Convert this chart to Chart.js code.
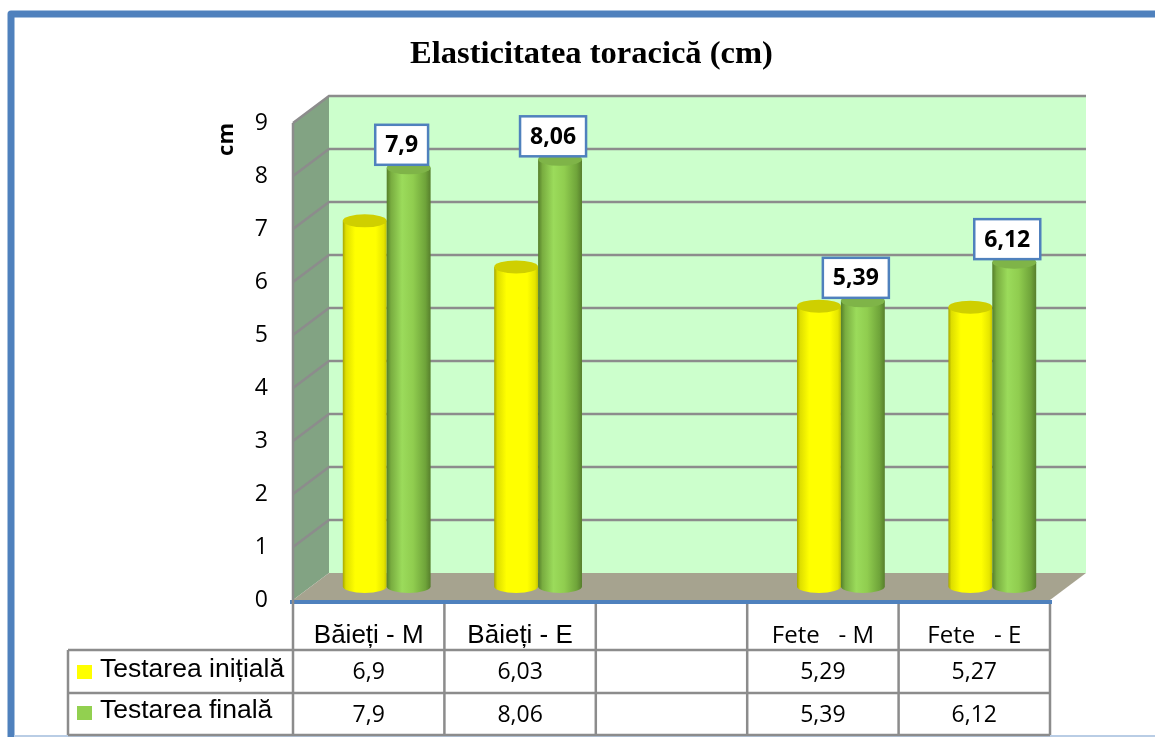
<!DOCTYPE html>
<html lang="ro">
<head>
  <meta charset="UTF-8">
  <title>Elasticitatea toracică (cm)</title>
  <script src="https://cdn.jsdelivr.net/npm/chart.js"></script>
  <style>
    html, body { margin: 0; padding: 0; background: #fff; overflow: hidden; }
    canvas { display: block; }
  </style>
</head>
<body>
  <canvas id="chart" width="1155" height="737"></canvas>

  <script>
    // data
    const categories = ['Băieți - M', 'Băieți - E', '', 'Fete   - M', 'Fete   - E'];
    const initiala   = [6.9, 6.03, null, 5.29, 5.27];
    const finala     = [7.9, 8.06, null, 5.39, 6.12];
    const seriesNames = ['Testarea inițială', 'Testarea finală'];
    const yMin = 0, yMax = 9, yStep = 1;

    // look
    const YELLOW = '#ffff00', GREEN = '#92d050', FRAME = '#4f81bd', GRID = '#8c8c8c';
    const DX = 36, DY = -27;            // depth of the box (back wall offset)
    const MX = DX / 2, MY = DY / 2;     // bars stand in the middle of the floor
    const catFonts = ['26px "Liberation Sans"', '26px "Liberation Sans"', '24px "Open Sans"',
                      '24px "Open Sans"', '24px "Open Sans"'];
    const shades = [
      { body: [[0, '#a6a600'], [0.07, '#dede00'], [0.28, '#ffff00'], [0.75, '#ffff00'], [0.93, '#e6e600'], [1, '#c4c400']],
        top: '#cfcf00' },
      { body: [[0, '#557f2a'], [0.1, '#79ad40'], [0.35, '#9bdb5b'], [0.6, '#90cd4f'], [0.88, '#6fa43a'], [1, '#577f2c']],
        top: '#7fb448' }
    ];

    const fmt = v => String(v).replace('.', ',');

    function poly(ctx, pts) {
      ctx.beginPath();
      pts.forEach(([x, y], i) => i ? ctx.lineTo(x, y) : ctx.moveTo(x, y));
      ctx.closePath();
      ctx.fill();
    }

    function drawCylinder(ctx, cx, yTop, yBase, w, shade) {
      const rx = w / 2, ry = 6.5, l = cx - rx, r = cx + rx;
      const g = ctx.createLinearGradient(l, 0, r, 0);
      shade.body.forEach(([s, c]) => g.addColorStop(s, c));
      ctx.beginPath();
      ctx.moveTo(l, yTop);
      ctx.lineTo(l, yBase);
      ctx.ellipse(cx, yBase, rx, ry, 0, Math.PI, 0, true);
      ctx.lineTo(r, yTop);
      ctx.closePath();
      ctx.fillStyle = g;
      ctx.fill();
      ctx.beginPath();
      ctx.ellipse(cx, yTop, rx, ry, 0, 0, Math.PI * 2);
      ctx.fillStyle = shade.top;
      ctx.fill();
    }

    const scene3d = {
      id: 'scene3d',
      beforeDraw(chart) {
        const { ctx, width, height } = chart;
        ctx.save();
        ctx.fillStyle = '#fff';
        ctx.fillRect(0, 0, width, height);
        // outer frame (runs off the right edge)
        ctx.strokeStyle = FRAME;
        ctx.lineWidth = 7;
        ctx.lineJoin = 'round';
        ctx.beginPath();
        ctx.moveTo(11, height + 10);
        ctx.lineTo(11, 14);
        ctx.lineTo(width + 10, 14);
        ctx.stroke();
        ctx.strokeStyle = '#b9cde5';
        ctx.lineWidth = 2;
        ctx.beginPath();
        ctx.moveTo(14, height - 1);
        ctx.lineTo(width, height - 1);
        ctx.stroke();
        ctx.restore();
      },
      beforeDatasetsDraw(chart) {
        const { ctx, chartArea: { left, right, top, bottom } } = chart;
        const y = chart.scales.y;
        ctx.save();
        // side wall, back wall, floor
        ctx.fillStyle = '#82a383';
        poly(ctx, [[left, bottom], [left, top], [left + DX, top + DY], [left + DX, bottom + DY]]);
        ctx.fillStyle = '#ccffcc';
        ctx.fillRect(left + DX, top + DY, right - left, bottom - top);
        ctx.fillStyle = '#a6a38f';
        poly(ctx, [[left, bottom], [right, bottom], [right + DX, bottom + DY], [left + DX, bottom + DY]]);

        // grid lines wrap around side and back wall
        ctx.strokeStyle = GRID;
        ctx.lineWidth = 2.5;
        y.ticks.forEach(t => {
          if (t.value === yMin) return;
          const py = y.getPixelForValue(t.value);
          ctx.beginPath();
          ctx.moveTo(left, py);
          ctx.lineTo(left + DX, py + DY);
          ctx.lineTo(right + DX, py + DY);
          ctx.stroke();
        });

        // cylinders
        chart.data.datasets.forEach((ds, di) => {
          chart.getDatasetMeta(di).data.forEach((bar, i) => {
            if (ds.data[i] == null) return;
            const p = bar.getProps(['x', 'y', 'base', 'width'], true);
            drawCylinder(ctx, p.x + MX, p.y + MY, p.base + MY, p.width, shades[di]);
          });
        });

        // value axis line along the front of the floor
        ctx.strokeStyle = FRAME;
        ctx.lineWidth = 4;
        ctx.beginPath();
        ctx.moveTo(left - 3, bottom + 2);
        ctx.lineTo(right + 2, bottom + 2);
        ctx.stroke();
        ctx.restore();
      },
      beforeDatasetDraw() {
        return false;   // bars are painted as cylinders above
      },
      afterDatasetsDraw(chart) {
        const { ctx } = chart;
        ctx.save();
        ctx.font = 'bold 23px "Open Sans"';
        ctx.textAlign = 'center';
        ctx.textBaseline = 'middle';
        chart.getDatasetMeta(1).data.forEach((bar, i) => {
          const v = finala[i];
          if (v == null) return;
          const text = fmt(v);
          const cx = bar.x + MX - 7;
          const bw = ctx.measureText(text).width + 20, bh = 40;
          const bx = cx - bw / 2, by = bar.y + MY - 3 - bh;
          ctx.fillStyle = '#fff';
          ctx.fillRect(bx, by, bw, bh);
          ctx.strokeStyle = FRAME;
          ctx.lineWidth = 2.5;
          ctx.strokeRect(bx, by, bw, bh);
          ctx.fillStyle = '#000';
          ctx.fillText(text, cx, by + bh / 2 + 1);
        });
        ctx.restore();
      },
      afterDraw(chart) {
        // data table under the plot
        const { ctx, chartArea: { left, right, top, bottom } } = chart;
        const x = chart.scales.x;
        const catW = (right - left) / categories.length;
        const hdr = bottom + 50, row1 = bottom + 93, row2 = bottom + 135, legL = 68;
        const rows = [initiala, finala];
        const colors = [YELLOW, GREEN];

        ctx.save();
        ctx.strokeStyle = GRID;
        ctx.lineWidth = 2.5;
        ctx.beginPath();
        ctx.moveTo(left, top);
        ctx.lineTo(left, row2);
        for (let k = 1; k <= categories.length; k++) {
          ctx.moveTo(left + k * catW, bottom + 4);
          ctx.lineTo(left + k * catW, row2);
        }
        ctx.moveTo(legL, hdr);
        ctx.lineTo(legL, row2);
        [hdr, row1, row2].forEach(yy => { ctx.moveTo(legL, yy); ctx.lineTo(right, yy); });
        ctx.stroke();

        ctx.fillStyle = '#000';
        ctx.textAlign = 'center';
        ctx.textBaseline = 'alphabetic';
        categories.forEach((c, i) => {
          const cx = x.getPixelForValue(i);
          ctx.font = catFonts[i];
          ctx.fillText(c, cx, bottom + 43);
          ctx.font = '23px "Open Sans"';
          rows.forEach((r, ri) => {
            if (r[i] != null) ctx.fillText(fmt(r[i]), cx, bottom + (ri ? 122 : 79));
          });
        });

        ctx.textAlign = 'left';
        ctx.font = '26.5px "Liberation Sans"';
        seriesNames.forEach((s, ri) => {
          const base = ri ? bottom + 118 : bottom + 77;
          ctx.fillStyle = colors[ri];
          ctx.fillRect(77, base - 12, 15, 14);
          ctx.fillStyle = '#000';
          ctx.fillText(s, 100, base);
        });
        ctx.restore();
      }
    };

    Chart.defaults.color = '#000';

    new Chart(document.getElementById('chart'), {
      type: 'bar',
      data: {
        labels: categories,
        datasets: [
          { label: seriesNames[0], data: initiala, backgroundColor: YELLOW },
          { label: seriesNames[1], data: finala, backgroundColor: GREEN }
        ]
      },
      options: {
        responsive: false,
        animation: false,
        categoryPercentage: 0.58,
        barPercentage: 1,
        layout: { padding: { left: 133, right: 105, top: 0, bottom: 137 } },
        scales: {
          x: { display: false },
          y: {
            min: yMin, max: yMax,
            ticks: { stepSize: yStep, padding: 25, font: { family: 'Open Sans', size: 23 }, color: '#000' },
            grid: { display: false, drawTicks: false },
            border: { display: false },
            title: {
              display: true, text: 'cm', align: 'end', color: '#000',
              font: { family: 'Open Sans', size: 22, weight: 'bold' },
              padding: { top: 81 }
            },
            afterFit(scale) { scale.width = 160; }
          }
        },
        plugins: {
          legend: { display: false },
          tooltip: { enabled: false },
          title: {
            display: true,
            text: 'Elasticitatea toracică (cm)',
            color: '#000',
            font: { family: 'Liberation Serif', size: 32.5, weight: 'bold' },
            padding: { top: 35.5, bottom: 48.5 }
          }
        }
      },
      plugins: [scene3d]
    });
  </script>
</body>
</html>
